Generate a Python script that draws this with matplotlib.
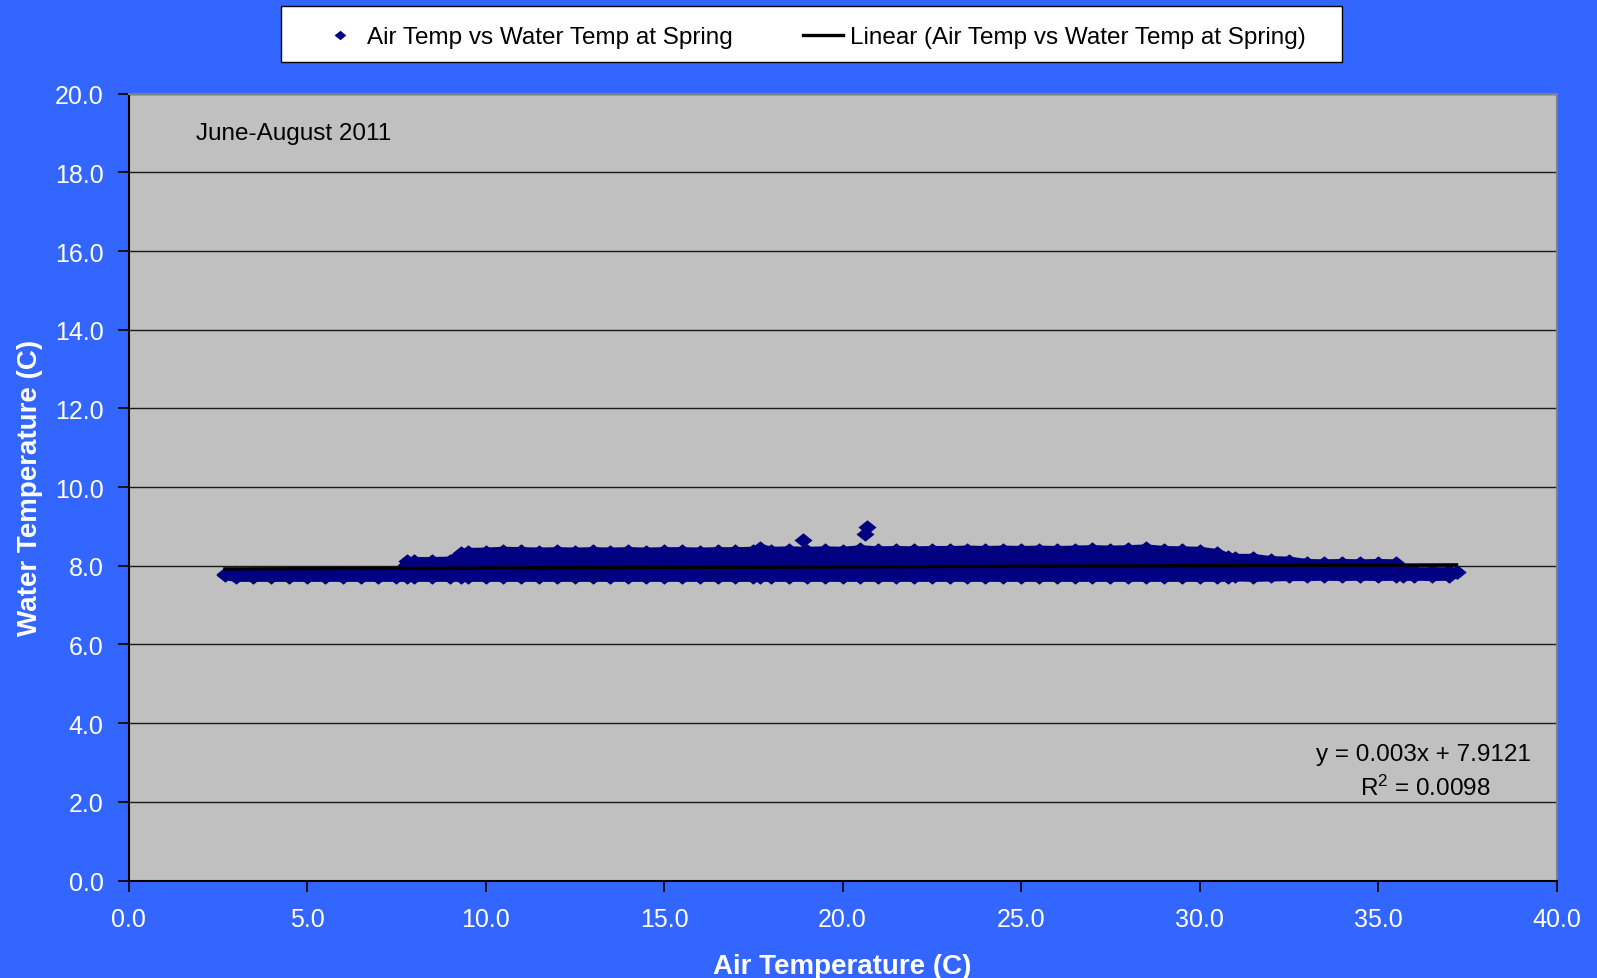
import matplotlib
matplotlib.use('Agg')
import matplotlib.pyplot as plt
from matplotlib.patches import Rectangle

plt.rcParams['font.family'] = ['Liberation Sans', 'DejaVu Sans']
plt.rcParams['mathtext.fontset'] = 'custom'
plt.rcParams['mathtext.rm'] = 'Liberation Sans'
plt.rcParams['mathtext.it'] = 'Liberation Sans:italic'

# ---------------- data ----------------
# envelope of the dense scatter band: air temp samples with lowest / highest water temp
air_env = [2.7, 3.0, 3.5, 4.0, 4.5, 5.0, 5.5, 6.0, 6.5, 7.0, 7.5,
           7.8, 8.0, 8.5, 9.0,
           9.3, 9.5, 10.0, 10.5, 11.0, 11.5, 12.0, 12.5, 13.0, 13.5, 14.0, 14.5,
           15.0, 15.5, 16.0, 16.5, 17.0, 17.5,
           17.7,
           18.0, 18.5, 19.0, 19.5, 20.0, 20.5,
           21.0, 21.5, 22.0, 22.5, 23.0, 23.5, 24.0, 24.5, 25.0, 25.5, 26.0, 26.5,
           27.0, 27.5, 28.0, 28.5,
           29.0, 29.5, 30.0, 30.5,
           30.8, 31.0, 31.5, 32.0, 32.5,
           33.0, 33.5, 34.0, 34.5, 35.0, 35.5,
           35.7, 36.0, 36.5, 37.0, 37.2]
water_upper = [7.78, 7.80, 7.80, 7.80, 7.80, 7.80, 7.80, 7.80, 7.80, 7.80, 7.80,
               8.12, 8.12, 8.12, 8.13,
               8.33, 8.35, 8.36, 8.38, 8.37, 8.36, 8.37, 8.36, 8.37, 8.36, 8.37, 8.36,
               8.37, 8.37, 8.36, 8.37, 8.37, 8.38,
               8.45,
               8.38, 8.39, 8.38, 8.39, 8.38, 8.42,
               8.39, 8.40, 8.39, 8.40, 8.40, 8.41, 8.40, 8.41, 8.40, 8.41, 8.40, 8.41,
               8.42, 8.41, 8.42, 8.44,
               8.40, 8.39, 8.38, 8.32,
               8.22, 8.20, 8.20, 8.14, 8.13,
               8.07, 8.06, 8.07, 8.06, 8.07, 8.06,
               7.87, 7.86, 7.86, 7.86, 7.83]
water_lower = [7.76, 7.72, 7.72, 7.72, 7.72, 7.72, 7.72, 7.72, 7.72, 7.72, 7.72,
               7.72, 7.72, 7.72, 7.72,
               7.72, 7.72, 7.72, 7.72, 7.72, 7.72, 7.72, 7.72, 7.72, 7.72, 7.72, 7.72,
               7.72, 7.72, 7.72, 7.72, 7.72, 7.72,
               7.72,
               7.72, 7.72, 7.72, 7.72, 7.72, 7.72,
               7.72, 7.72, 7.72, 7.72, 7.72, 7.72, 7.72, 7.72, 7.72, 7.72, 7.72, 7.72,
               7.72, 7.72, 7.72, 7.72,
               7.72, 7.72, 7.72, 7.72,
               7.72, 7.73, 7.72, 7.73, 7.74,
               7.74, 7.75, 7.74, 7.75, 7.74, 7.75,
               7.74, 7.75, 7.74, 7.75, 7.83]
# isolated points above the band
out_air = [18.9, 20.68, 20.62]
out_water = [8.65, 8.98, 8.82]

# trendline as reported on the chart
slope, intercept = 0.003, 7.9121
eq_text = 'y = 0.003x + 7.9121'
r2_text = 'R$^{2}$ = 0.0098'

x_ticks = [0, 5, 10, 15, 20, 25, 30, 35, 40]
y_ticks = [0, 2, 4, 6, 8, 10, 12, 14, 16, 18, 20]

series_label = 'Air Temp vs Water Temp at Spring'
trend_label = 'Linear (Air Temp vs Water Temp at Spring)'

assert len(air_env) == len(water_upper) == len(water_lower)

# ---------------- figure ----------------
W, H = 1597, 979
fig = plt.figure(figsize=(W / 100, H / 100), dpi=100)
fig.patch.set_facecolor('#3366FF')

ax = fig.add_axes([128.5 / W, 97.5 / H, 1428 / W, 786.8 / H])
ax.set_facecolor('#C0C0C0')
ax.set_xlim(0, 40)
ax.set_ylim(0, 20)

navy = '#000080'
diamond = [(-1, 0), (0, 0.8), (1, 0), (0, -0.8), (-1, 0)]
ms = 13

band = ax.fill_between(air_env, water_lower, water_upper, facecolor=navy,
                       edgecolor=navy, lw=6.6, zorder=3)
band.set_joinstyle('round')
ax.plot(air_env, water_upper, ls='none', marker=diamond, ms=ms, color=navy,
        mew=0, zorder=3, label=series_label)
ax.plot(air_env, water_lower, ls='none', marker=diamond, ms=ms, color=navy,
        mew=0, zorder=3)
ax.plot(out_air, out_water, ls='none', marker=diamond, ms=ms, color=navy,
        mew=0, zorder=3)

xt = [min(air_env), max(air_env)]
yt = [slope * v + intercept for v in xt]
ax.plot(xt, yt, color='black', lw=2.4, zorder=4, label=trend_label)

ax.set_xticks(x_ticks)
ax.set_xticklabels([f'{v:.1f}' for v in x_ticks])
ax.set_yticks(y_ticks)
ax.set_yticklabels([f'{v:.1f}' for v in y_ticks])
ax.tick_params(axis='both', direction='out', length=8, width=1.2, color='black',
               labelcolor='white', labelsize=18)
ax.tick_params(axis='x', pad=11)
ax.tick_params(axis='y', pad=10)

ax.grid(axis='y', color='#1a1a1a', lw=1.0, zorder=1)
ax.set_axisbelow(True)
for s in ['left', 'bottom']:
    ax.spines[s].set_color('black')
    ax.spines[s].set_linewidth(1.5)
for s in ['top', 'right']:
    ax.spines[s].set_color('#808080')
    ax.spines[s].set_linewidth(1.5)

ax.set_xlabel('Air Temperature (C)', fontsize=20, fontweight='bold', color='white')
ax.xaxis.label.set_va('center')
ax.xaxis.set_label_coords(0.5, (881.5 - 967.5) / 786.8)
ax.set_ylabel('Water Temperature (C)', fontsize=20, fontweight='bold', color='white')
ax.yaxis.label.set_va('center')
ax.yaxis.set_label_coords((30.5 - 128.5) / 1428, 0.5)

fig.text(195.5 / W, 1 - 134.4 / H, 'June-August 2011', fontsize=17.5,
         color='black', va='center', ha='left')
fig.text(1423 / W, 1 - 754.7 / H, eq_text, fontsize=17.5, color='black',
         va='center', ha='center')
fig.text(1425 / W, 1 - 788 / H, r2_text, fontsize=17.5, color='black',
         va='center', ha='center')

# legend
rect = Rectangle((281 / W, 1 - 63 / H), 1061 / W, 56 / H, transform=fig.transFigure,
                 facecolor='white', edgecolor='black', lw=1.0, zorder=1)
fig.patches.append(rect)
handles, labels = ax.get_legend_handles_labels()
fig.legend(handles, labels, loc='center', bbox_to_anchor=(813 / W, 1 - 38 / H),
           ncol=2, frameon=False, fontsize=17.5, handlelength=1.65,
           handletextpad=0.28, columnspacing=2.9, borderpad=0, numpoints=1,
           markerscale=0.65)

fig.savefig('out.png', dpi=100, facecolor=fig.get_facecolor())
